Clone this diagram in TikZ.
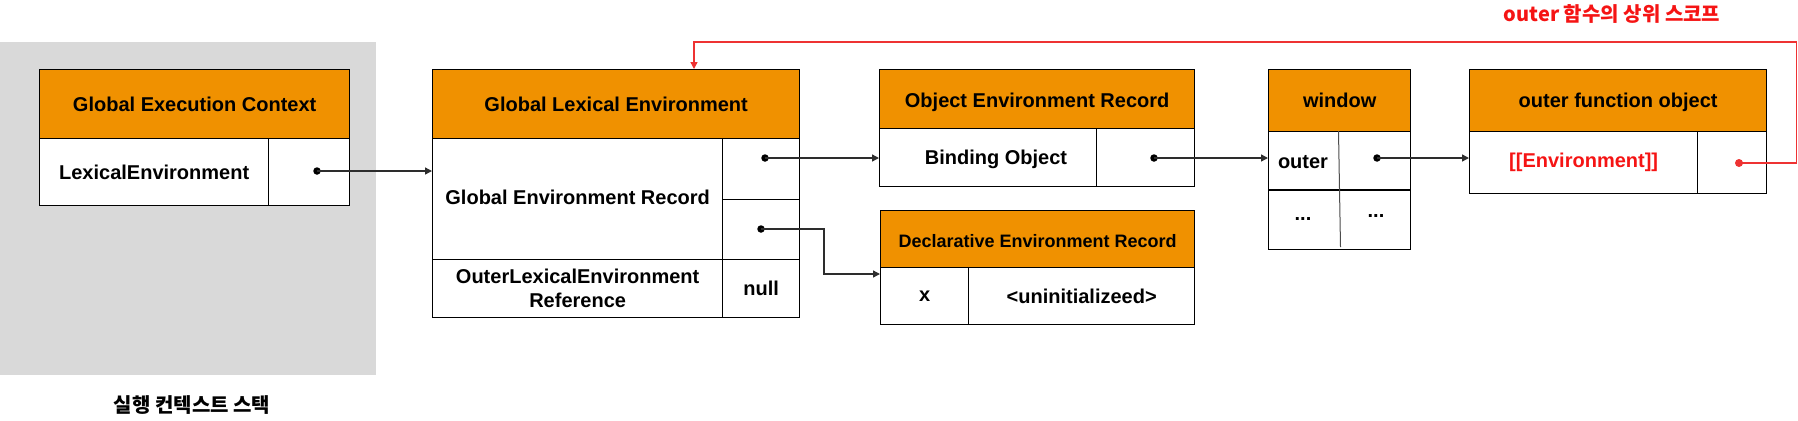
\documentclass[tikz,border=0pt]{standalone}
\usepackage{fontspec}
\setmainfont{Liberation Sans}
\newfontfamily\krfont{Noto Sans CJK KR}
\usetikzlibrary{arrows.meta}
\definecolor{hdr}{RGB}{240,145,0}
\definecolor{bggray}{RGB}{217,217,217}
\definecolor{lnk}{RGB}{45,45,45}
\definecolor{redtxt}{RGB}{245,20,20}
\definecolor{redln}{RGB}{238,50,50}
\begin{document}
\begin{tikzpicture}[x=1bp,y=-1bp,
  txt/.style={font=\fontsize{20bp}{24bp}\selectfont\bfseries, align=center},
  cell/.style={draw=black, line width=1.3bp, inner sep=0pt, anchor=north west, txt},
  hcell/.style={cell, fill=hdr},
  lbl/.style={inner sep=0pt, txt},
  link/.style={draw=lnk, line width=1.4bp, -{Triangle[length=7bp,width=7bp]}},
  redlink/.style={draw=redln, line width=1.4bp, -{Triangle[length=7bp,width=7bp]}},
  dot/.style={circle, fill=black, inner sep=0pt, minimum size=7.5bp},
  reddot/.style={circle, fill=redln, inner sep=0pt, minimum size=8bp},
]
\useasboundingbox (0,0) rectangle (1798,420);

% execution context stack
\node[fill=bggray, inner sep=0pt, anchor=north west, minimum width=376bp, minimum height=333bp] (stack) at (0,42) {};
\node[inner sep=0pt, font=\krfont\fontsize{20bp}{24bp}\selectfont\bfseries] (stacklbl) at (192,405) {실행 컨텍스트 스택};

% Global Execution Context
\node[hcell, minimum width=310bp, minimum height=69bp] (gech) at (39,69) {Global Execution Context};
\node[cell, fill=white, minimum width=229bp, minimum height=67bp] (gecl) at (39,138) {LexicalEnvironment};
\node[cell, fill=white, minimum width=81bp, minimum height=67bp] (gecv) at (268,138) {};

% Global Lexical Environment
\node[hcell, minimum width=367bp, minimum height=69bp] (gleh) at (432,69) {Global Lexical Environment};
\node[cell, minimum width=290bp, minimum height=121bp] (gler) at (432,138) {};
\node[lbl, yshift=1.5bp] (glerl) at (gler) {Global Environment Record};
\node[cell, minimum width=77bp, minimum height=61bp] (glev1) at (722,138) {};
\node[cell, minimum width=77bp, minimum height=60bp] (glev2) at (722,199) {};
\node[cell, minimum width=290bp, minimum height=58bp] (gleo) at (432,259) {OuterLexicalEnvironment\\Reference};
\node[cell, minimum width=77bp, minimum height=58bp] (glen) at (722,259) {null};
\coordinate (gletop) at (694,69);

% Object Environment Record
\node[hcell, minimum width=315bp, minimum height=59bp] (oerh) at (879,69) {};
\node[lbl, yshift=-3bp] (oerhl) at (oerh) {Object Environment Record};
\node[cell, minimum width=217bp, minimum height=58bp] (oerb) at (879,128) {};
\node[lbl] (oerbl) at (996,159) {Binding Object};
\node[cell, minimum width=98bp, minimum height=58bp] (oerv) at (1096,128) {};

% Declarative Environment Record
\node[hcell, minimum width=314bp, minimum height=57bp] (derh) at (880,210) {};
\node[lbl, yshift=-2bp, font=\fontsize{18bp}{22bp}\selectfont\bfseries] (derhl) at (derh) {Declarative Environment Record};
\node[cell, minimum width=88bp, minimum height=57bp] (derx) at (880,267) {x};
\node[cell, minimum width=226bp, minimum height=57bp] (deru) at (968,267) {<uninitializeed>};
\coordinate (derin) at (880,274);

% window
\node[hcell, minimum width=142bp, minimum height=62bp] (winh) at (1268,69) {window};
\node[cell, minimum width=142bp, minimum height=118bp] (winb) at (1268,131) {};
\draw[line width=1.3bp] (1268,190) -- (1410,190);
\draw[line width=1bp, draw=black!70] (1338.5,131) -- (1340.5,247);
\node[lbl] (winouter) at (1303,162) {outer};
\node[lbl] (wine1) at (1303,219) {...};
\node[lbl] (wine2) at (1376,216) {...};

% outer function object
\node[hcell, minimum width=297bp, minimum height=62bp] (ofoh) at (1469,69) {};
\node[lbl, yshift=-2bp] (ofohl) at (ofoh) {outer function object};
\node[cell, minimum width=228bp, minimum height=62bp, text=redtxt] (ofoe) at (1469,131) {[[Environment]]};
\node[cell, minimum width=69bp, minimum height=62bp] (ofov) at (1697,131) {};

% red caption
\node[inner sep=0pt, text=redtxt, font=\krfont\fontsize{20bp}{24bp}\selectfont\bfseries] (cap) at (1612,14) {outer 함수의 상위 스코프};

% dots
\node[dot] (d0) at (317,171) {};
\node[dot] (d1) at (765,158) {};
\node[dot] (d2) at (761,229) {};
\node[dot] (d3) at (1154,158) {};
\node[dot] (d4) at (1377,158) {};

% connectors
\draw[link] (d0.center) -- (d0 -| gler.west);
\draw[link] (d1.center) -- (d1 -| oerb.west);
\draw[link] (d2.center) -- ++(63,0) |- (derin);
\draw[link] (d3.center) -- (d3 -| winb.west);
\draw[link] (d4.center) -- (d4 -| ofoe.west);
\draw[redlink] (1739,163) -- (1796.5,163) -- (1796.5,42) -| (gletop);
\node[reddot] (rd) at (1739,163) {};
\end{tikzpicture}
\end{document}
